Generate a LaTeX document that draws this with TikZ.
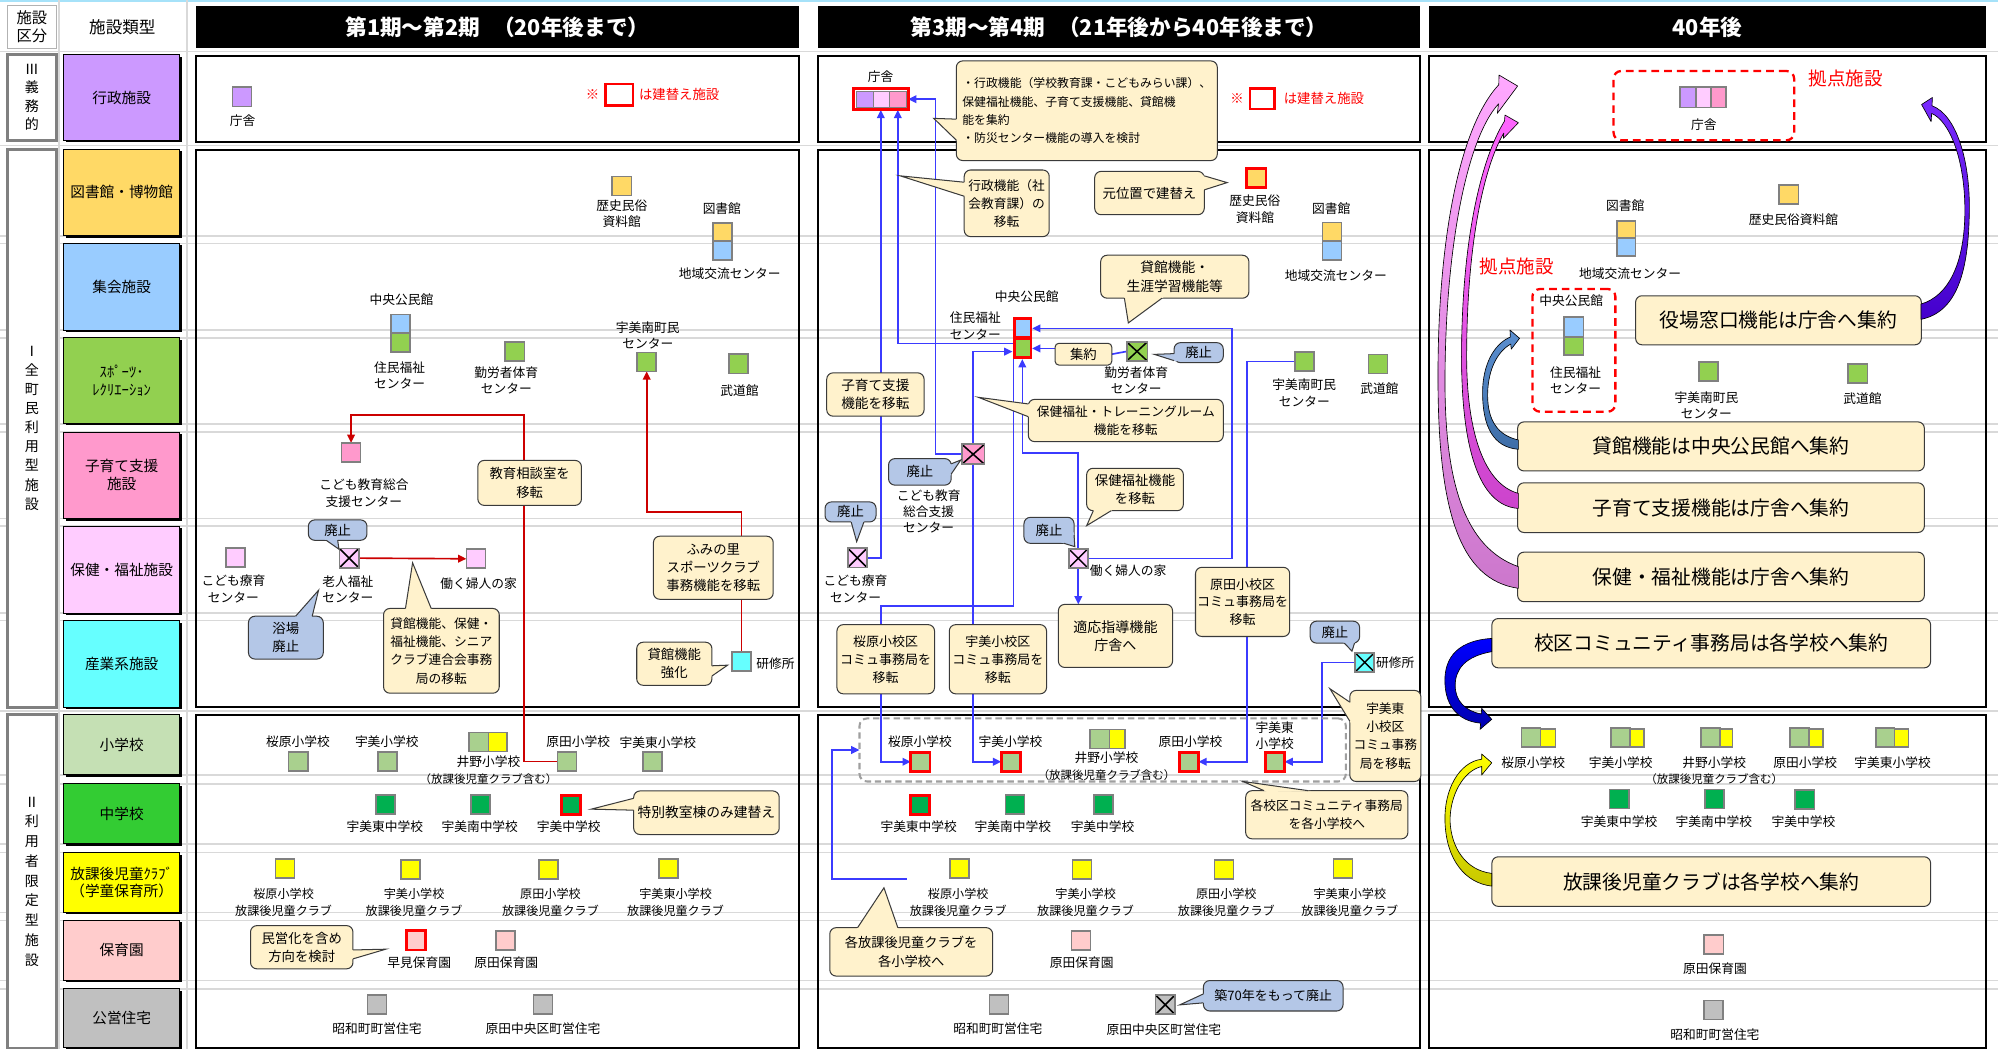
\documentclass[tikz,border=0pt]{standalone}
\usepackage{fontspec}
\setmainfont{Noto Sans CJK JP}
\usetikzlibrary{calc,arrows.meta}
\definecolor{admpurple}{HTML}{CC99FF}
\definecolor{libor}{HTML}{FFD966}
\definecolor{meetblue}{HTML}{99CCFF}
\definecolor{sportgreen}{HTML}{92D050}
\definecolor{kidpink}{HTML}{FF99CC}
\definecolor{welpink}{HTML}{FFCCFF}
\definecolor{indcyan}{HTML}{66FFFF}
\definecolor{elemcat}{HTML}{C5E0B4}
\definecolor{elemgreen}{HTML}{A9D08E}
\definecolor{jcat}{HTML}{33CC33}
\definecolor{jgreen}{HTML}{00B050}
\definecolor{clubyellow}{HTML}{FFFF00}
\definecolor{nurspink}{HTML}{FFCCCC}
\definecolor{housegray}{HTML}{C0C0C0}
\definecolor{cream}{HTML}{FFF2CC}
\definecolor{bluegray}{HTML}{B4C7E7}
\definecolor{flowblue}{HTML}{3B3BFF}
\definecolor{flowred}{HTML}{CC0000}
\definecolor{facgray}{HTML}{808080}
\definecolor{gridgray}{HTML}{D9D9D9}
\definecolor{cborder}{HTML}{3A3A3A}
\definecolor{pinkA}{HTML}{FFA8FF}
\definecolor{pinkB}{HTML}{CC77CC}
\definecolor{magA}{HTML}{FF66FF}
\definecolor{magB}{HTML}{CC44CC}
\definecolor{steelA}{HTML}{5B8FD0}
\definecolor{steelB}{HTML}{3E6EA8}
\definecolor{violA}{HTML}{7A2BFF}
\definecolor{violB}{HTML}{4400CC}
\definecolor{blueA}{HTML}{0000FF}
\definecolor{blueB}{HTML}{0000B0}
\definecolor{yelA}{HTML}{FFFF00}
\definecolor{yelB}{HTML}{C8C800}
\newcommand\myfs[2]{\fontsize{#1}{#2}\selectfont}
\pgfdeclarelayer{gridlayer}
\pgfdeclarelayer{linelayer}
\pgfsetlayers{gridlayer,linelayer,main}
\tikzset{
  every node/.style={outer sep=0pt},
  fac/.style={draw=facgray, line width=1.3pt, minimum width=15pt, minimum height=15pt, inner sep=0pt},
  rfac/.style={fac, draw=red, line width=2.2pt},
  crossed/.style={path picture={\draw[black, line width=1.2pt] (path picture bounding box.south west) -- (path picture bounding box.north east) (path picture bounding box.north west) -- (path picture bounding box.south east);}},
  lbl/.style={inner sep=0pt, align=center, font={\myfs{10}{12.7}}},
  clbl/.style={lbl, font={\myfs{9.5}{13.3}}},
  callout/.style={draw=cborder, fill=cream, rounded corners=5pt, line width=0.8pt, align=center, inner sep=0pt, font={\myfs{10.5}{14.3}}},
  bcallout/.style={callout, fill=bluegray},
  bigbox/.style={callout, font={\myfs{15.5}{18}}},
  tailline/.style={draw=cborder, line width=0.8pt, line join=miter},
  bline/.style={draw=flowblue, line width=1.3pt, -{Triangle[length=6.5pt,width=6pt]}},
  rline/.style={draw=flowred, line width=1.3pt, -{Triangle[length=6.5pt,width=6pt]}},
  hdr/.style={fill=black, text=white, inner sep=0pt, font={\bfseries\myfs{17}{20}}},
  catbox/.style={draw=black, line width=0.6pt, minimum width=91pt, inner sep=0pt, align=center, font={\myfs{11.5}{14}}},
  grpbox/.style={draw=facgray, line width=2.4pt, fill=white, minimum width=38pt, inner sep=0pt, align=center},
  bigarrow/.style={draw=black, line width=0.5pt, line join=round},
  reddash/.style={draw=red, dash pattern=on 6pt off 4pt, line width=1.8pt, rounded corners=6pt, inner sep=0pt},
  redtxt/.style={text=red, inner sep=0pt, font={\myfs{10.5}{12}}},
}
\newcommand\cbox[7]{\node[#2, minimum width={#5-(#3)}, minimum height={#6-(#4)}] (#1) at ({(#3+#5)/2},{(#4+#6)/2}) {#7};}
\newcommand\ctail[4]{\fill[#1] ($#2!-2.5pt!#4$) -- #4 -- ($#3!-2.5pt!#4$) -- cycle; \draw[tailline] #2 -- #4 -- #3;}
\newcommand\catbox[5]{\fill[black] (51.6,{#3+1.6}) rectangle (142.6,{#4+1.6}); \node[catbox, fill=#2, minimum height={#4-(#3)}] (#1) at (95.5,{(#3+#4)/2}) {#5};}
\begin{document}
\begin{tikzpicture}[x=1pt,y=-1pt]
\useasboundingbox (0,0) rectangle (1568,823);
\begin{pgfonlayer}{gridlayer}
\fill[white] (0,0) rectangle (1568,823);
\draw[cyan!35, line width=1.2pt] (0,0.6) -- (1568,0.6);
\foreach \yy in {40.5,114.3,185,191,259,265,332.5,339,407,413,481,487,557.8,608,615,662.5,669,716,722.5,769.5,776}
  \draw[gridgray, line width=1.3pt] (0,\yy) -- (1568,\yy);
\foreach \xx in {46.5,146.5}
  \draw[gridgray, line width=1.3pt] (\xx,0) -- (\xx,823);
\foreach \xa/\xb in {153.8/627, 642/1114.5, 1121.6/1558.5}{
  \draw[black, line width=1.6pt] (\xa,43.8) rectangle (\xb,111.4);
  \draw[black, line width=1.6pt] (\xa,117.5) rectangle (\xb,554.5);
  \draw[black, line width=1.6pt] (\xa,561) rectangle (\xb,822.3);
}
\end{pgfonlayer}

% ---------- left columns ----------
\node[draw=gray!60, line width=0.8pt, minimum width=38pt, minimum height=34pt, inner sep=0pt, align=center, font={\myfs{12}{14}}] (hkubun) at (25,21) {施設\\区分};
\node[inner sep=0pt, font={\myfs{13}{15}}] (hruikei) at (96,21) {施設類型};
\node[grpbox, minimum height=67pt, font={\myfs{11}{14.5}}] (g3) at (25,76.5) {Ⅲ\\義\\務\\的};
\node[grpbox, minimum height=438pt, font={\myfs{11}{15}}] (g1) at (25,336) {Ⅰ\\全\\町\\民\\利\\用\\型\\施\\設};
\node[grpbox, minimum height=261.5pt, font={\myfs{11}{15.5}}] (g2) at (25,691.8) {Ⅱ\\利\\用\\者\\限\\定\\型\\施\\設};
\catbox{cgyo}{admpurple}{43}{110}{行政施設}
\catbox{ctosho}{libor}{117}{185}{図書館・博物館}
\catbox{cshu}{meetblue}{191}{259}{集会施設}
\catbox{cspo}{sportgreen}{265}{332}{ｽﾎﾟｰﾂ･\\ﾚｸﾘｴｰｼｮﾝ}
\catbox{ckoso}{kidpink}{339}{407}{子育て支援\\施設}
\catbox{chok}{welpink}{413}{481}{保健・福祉施設}
\catbox{csan}{indcyan}{487}{555}{産業系施設}
\catbox{csho}{elemcat}{561}{608}{小学校}
\catbox{cchu}{jcat}{615}{662}{中学校}
\catbox{chou}{clubyellow}{669}{716}{放課後児童ｸﾗﾌﾞ\\（学童保育所）}
\catbox{choi}{nurspink}{722}{769}{保育園}
\catbox{cjyu}{housegray}{776}{822}{公営住宅}

% ---------- headers ----------
\node[hdr, minimum width=473.2pt, minimum height=33.2pt] (h1) at (390.4,21.4) {第1期～第2期\hspace{0.6em}（20年後まで）};
\node[hdr, minimum width=472.5pt, minimum height=33.2pt] (h2) at (878.25,21.4) {第3期～第4期\hspace{0.6em}（21年後から40年後まで）};
\node[hdr, minimum width=436.9pt, minimum height=33.2pt] (h3) at (1340.05,21.4) {40年後};

% ================= PANEL 1 =================
\node[fac, fill=admpurple] (p1cho) at (190,76) {};
\node[lbl] (p1chol) at (190.4,94.7) {庁舎};
\node[redtxt] (p1kome) at (465,74) {※};
\node[draw=red, line width=2pt, minimum width=21.6pt, minimum height=17pt, inner sep=0pt] (p1leg) at (485.8,74.5) {};
\node[redtxt] (p1legt) at (533,74) {は建替え施設};

\node[fac, fill=libor] (p1rek) at (488,146) {};
\node[lbl] (p1rekl) at (488,167.5) {歴史民俗\\資料館};
\node[lbl] (p1libl) at (566.5,163.7) {図書館};
\node[fac, fill=libor] (p1lib) at (567,182.3) {};
\node[fac, fill=meetblue] (p1chi) at (567,196.5) {};
\node[lbl] (p1chil) at (572.7,215) {地域交流センター};
\node[lbl] (p1kol) at (315,234.8) {中央公民館};
\node[fac, fill=meetblue] (p1kou) at (314.5,254.3) {};
\node[fac, fill=sportgreen] (p1jyu) at (314.5,268.6) {};
\node[lbl] (p1jyul) at (313.6,294.3) {住民福祉\\センター};
\node[fac, fill=sportgreen] (p1kin) at (404,276) {};
\node[lbl] (p1kinl) at (397.3,298.8) {勤労者体育\\センター};
\node[lbl] (p1uminl) at (508.4,262.9) {宇美南町民\\センター};
\node[fac, fill=sportgreen] (p1umin) at (507.5,284) {};
\node[fac, fill=sportgreen] (p1bud) at (579.5,285.5) {};
\node[lbl] (p1budl) at (580.4,306.4) {武道館};
\node[fac, fill=kidpink] (p1kodo) at (275.5,355) {};
\node[lbl] (p1kodol) at (285.6,387) {こども教育総合\\支援センター};
\node[fac, fill=welpink] (p1ryo) at (185,437.5) {};
\node[lbl] (p1ryol) at (183.2,462.1) {こども療育\\センター};
\node[fac, fill=welpink, crossed] (p1rojin) at (274,438) {};
\node[lbl] (p1rojinl) at (273,462.6) {老人福祉\\センター};
\node[fac, fill=welpink] (p1fujin) at (373.5,438.5) {};
\node[lbl] (p1fujinl) at (375.6,457.9) {働く婦人の家};
\node[fac, fill=indcyan] (p1ken) at (582,519.3) {};
\node[lbl, anchor=west] (p1kenl) at (593.5,521) {研修所};

\node[lbl] (p1sakl) at (233.8,581.8) {桜原小学校};
\node[fac, fill=elemgreen] (p1sak) at (234,597.6) {};
\node[lbl] (p1umil) at (303.6,581.8) {宇美小学校};
\node[fac, fill=elemgreen] (p1umi) at (304,597.6) {};
\node[fac, fill=elemgreen, minimum width=15.5pt] (p1inoA) at (375.7,582.3) {};
\node[fac, fill=clubyellow, minimum width=14.6pt] (p1inoB) at (390.7,582.3) {};
\node[lbl] (p1inol) at (383.4,598) {井野小学校};
\node[lbl, font={\myfs{9}{11}}] (p1inol2) at (383.4,611.5) {（放課後児童クラブ含む）};
\node[lbl] (p1harl) at (453.8,581.8) {原田小学校};
\node[fac, fill=elemgreen] (p1har) at (445,597.6) {};
\node[lbl] (p1higl) at (516.2,582.9) {宇美東小学校};
\node[fac, fill=elemgreen] (p1hig) at (512,597.6) {};
\node[fac, fill=jgreen] (p1mhig) at (302.5,631.5) {};
\node[lbl] (p1mhigl) at (302,649) {宇美東中学校};
\node[fac, fill=jgreen] (p1mmin) at (377,631.5) {};
\node[lbl] (p1mminl) at (376.5,649) {宇美南中学校};
\node[rfac, fill=jgreen] (p1mumi) at (448,632) {};
\node[lbl] (p1mumil) at (446.4,649) {宇美中学校};
\node[fac, fill=clubyellow] (p1cl1) at (223.6,681.4) {};
\node[fac, fill=clubyellow] (p1cl2) at (322.3,682.2) {};
\node[fac, fill=clubyellow] (p1cl3) at (430.5,682.2) {};
\node[fac, fill=clubyellow] (p1cl4) at (524.6,681.4) {};
\node[clbl] (p1cl1l) at (222.6,707.9) {桜原小学校\\放課後児童クラブ};
\node[clbl] (p1cl2l) at (325,707.9) {宇美小学校\\放課後児童クラブ};
\node[clbl] (p1cl3l) at (432,707.9) {原田小学校\\放課後児童クラブ};
\node[clbl] (p1cl4l) at (530.2,707.9) {宇美東小学校\\放課後児童クラブ};
\node[rfac, fill=nurspink] (p1haya) at (326.7,738) {};
\node[lbl] (p1hayal) at (329,755.8) {早見保育園};
\node[fac, fill=nurspink] (p1hnur) at (396.8,738) {};
\node[lbl] (p1hnurl) at (397.3,755.8) {原田保育園};
\node[fac, fill=housegray] (p1sho) at (295.8,788.5) {};
\node[lbl] (p1shol) at (295.9,807.4) {昭和町町営住宅};
\node[fac, fill=housegray] (p1hhou) at (426.2,788.5) {};
\node[lbl] (p1hhoul) at (426.2,807.4) {原田中央区町営住宅};

% panel 1 callouts
\cbox{p1c1}{callout}{375}{361.3}{456.3}{396.6}{教育相談室を\\移転}
\cbox{p1c2}{bcallout}{242}{408}{288}{424}{廃止}
\ctail{bluegray}{(256,424)}{(265,424)}{(266,431)}
\cbox{p1c3}{bcallout}{195}{483.6}{253.7}{517.2}{浴場\\廃止}
\ctail{bluegray}{(232,483.6)}{(245,483.6)}{(250,463.2)}
\cbox{p1c4}{callout, font={\myfs{10}{14.3}}}{301}{477.5}{391.8}{544}{貸館機能、保健・\\福祉機能、シニア\\クラブ連合会事務\\局の移転}
\ctail{cream}{(318.2,477.5)}{(338.4,477.5)}{(323.8,441.7)}
\cbox{p1c5}{callout}{512.8}{420.8}{606.8}{470.3}{ふみの里\\スポーツクラブ\\事務機能を移転}
\cbox{p1c6}{callout}{499.7}{504}{558.7}{537.8}{貸館機能\\強化}
\ctail{cream}{(558.7,522.5)}{(558.7,530.5)}{(571,522)}
\cbox{p1c7}{callout, font={\myfs{10.8}{14}}}{497.3}{620.7}{611.5}{654.9}{特別教室棟のみ建替え}
\ctail{cream}{(497.3,626.5)}{(497.3,635.8)}{(464,635)}
\cbox{p1c8}{callout}{196.6}{726.4}{277}{760.3}{民営化を含め\\方向を検討}
\ctail{cream}{(277,745.5)}{(277,752.5)}{(302.7,744.9)}

% ================= PANEL 2 =================
\node[lbl] (p2chol) at (691,60.5) {庁舎};
\node[draw=red, line width=2.2pt, fill=white, minimum width=42.9pt, minimum height=16.7pt, inner sep=0pt] (p2cho) at (691.25,77.85) {};
\node[draw=facgray, line width=0.7pt, fill=admpurple, minimum width=13.3pt, minimum height=13pt, inner sep=0pt] (p2choA) at (678.6,78) {};
\node[draw=facgray, line width=0.7pt, fill=welpink, minimum width=12.5pt, minimum height=13pt, inner sep=0pt] (p2choB) at (691.5,78) {};
\node[draw=facgray, line width=0.7pt, fill=kidpink, minimum width=13.9pt, minimum height=13pt, inner sep=0pt] (p2choC) at (704.7,78) {};
\node[redtxt] (p2kome) at (970.8,77.5) {※};
\node[draw=red, line width=2pt, minimum width=19.5pt, minimum height=15.9pt, inner sep=0pt] (p2leg) at (990.55,77.45) {};
\node[redtxt] (p2legt) at (1039,77.5) {は建替え施設};

\node[rfac, fill=libor] (p2rek) at (986,139.7) {};
\node[lbl] (p2rekl) at (984.8,164.2) {歴史民俗\\資料館};
\node[lbl] (p2libl) at (1044.7,163.7) {図書館};
\node[fac, fill=libor] (p2lib) at (1045.3,182) {};
\node[fac, fill=meetblue] (p2chi) at (1045.3,196.5) {};
\node[lbl] (p2chil) at (1048.4,216.2) {地域交流センター};
\node[lbl] (p2kol) at (805.7,233) {中央公民館};
\node[lbl] (p2jyul) at (765.4,255.8) {住民福祉\\センター};
\node[fill=red, minimum width=15.4pt, minimum height=32.7pt, inner sep=0pt] (p2chuo) at (802.3,265.45) {};
\node[fill=meetblue, minimum width=10.9pt, minimum height=12.6pt, inner sep=0pt] (p2kou) at (802.85,257.4) {};
\node[fill=sportgreen, minimum width=10.9pt, minimum height=12.5pt, inner sep=0pt] (p2jyu) at (802.85,273.05) {};
\cbox{p2shu}{callout, rounded corners=3pt}{828}{269.4}{872.5}{286.5}{集約}
\node[fac, fill=sportgreen, crossed, minimum width=16.2pt] (p2kin) at (892.3,275.8) {};
\node[lbl] (p2kinl) at (891.7,298.8) {勤労者体育\\センター};
\node[fac, fill=sportgreen] (p2umin) at (1023.7,283.6) {};
\node[lbl] (p2uminl) at (1023.6,308.4) {宇美南町民\\センター};
\node[fac, fill=sportgreen] (p2bud) at (1081.5,285.6) {};
\node[lbl] (p2budl) at (1082.5,305.1) {武道館};
\node[fac, fill=kidpink, crossed, minimum width=17.8pt, minimum height=15.7pt] (p2kodo) at (763.7,356.5) {};
\node[lbl, font={\myfs{10}{12.6}}] (p2kodol) at (728.8,401.3) {こども教育\\総合支援\\センター};
\node[fac, fill=welpink, crossed] (p2ryo) at (672.9,437.8) {};
\node[lbl] (p2ryol) at (671.4,462.1) {こども療育\\センター};
\node[fac, fill=welpink, crossed] (p2fujin) at (846.2,438.2) {};
\node[lbl, anchor=west] (p2fujinl) at (855.4,447.9) {働く婦人の家};
\node[fac, fill=indcyan, crossed] (p2ken) at (1071,519.8) {};
\node[lbl, anchor=west] (p2kenl) at (1080,519.8) {研修所};

\node[draw=gray!75, dash pattern=on 5pt off 3pt, line width=1.6pt, rounded corners=6pt, minimum width=381.7pt, minimum height=49.5pt, inner sep=0pt] (p2dash) at (865.35,588.55) {};
\node[lbl] (p2sakl) at (722,581.8) {桜原小学校};
\node[rfac, fill=elemgreen] (p2sak) at (722.3,597.8) {};
\node[lbl] (p2umil) at (793,581.8) {宇美小学校};
\node[rfac, fill=elemgreen] (p2umi) at (793.2,597.8) {};
\node[fac, fill=elemgreen, minimum width=15.2pt] (p2inoA) at (863,580) {};
\node[fac, fill=clubyellow, minimum width=12.4pt] (p2inoB) at (876.8,580) {};
\node[lbl] (p2inol) at (868.4,595) {井野小学校};
\node[lbl, font={\myfs{9}{11}}] (p2inol2) at (868.4,608) {（放課後児童クラブ含む）};
\node[lbl] (p2harl) at (934.2,581.8) {原田小学校};
\node[rfac, fill=elemgreen] (p2har) at (933,597.8) {};
\node[lbl, font={\myfs{10}{12.4}}] (p2higl) at (1000.3,577.2) {宇美東\\小学校};
\node[rfac, fill=elemgreen] (p2hig) at (1000.6,597.8) {};
\node[rfac, fill=jgreen] (p2mhig) at (722,632) {};
\node[lbl] (p2mhigl) at (721,649) {宇美東中学校};
\node[fac, fill=jgreen] (p2mmin) at (796.5,631.5) {};
\node[lbl] (p2mminl) at (794.9,649) {宇美南中学校};
\node[fac, fill=jgreen] (p2mumi) at (866.2,631.5) {};
\node[lbl] (p2mumil) at (865.3,649) {宇美中学校};
\node[fac, fill=clubyellow] (p2cl1) at (753,681.4) {};
\node[fac, fill=clubyellow] (p2cl2) at (849.2,682.2) {};
\node[fac, fill=clubyellow] (p2cl3) at (960.6,682.2) {};
\node[fac, fill=clubyellow] (p2cl4) at (1054,681.4) {};
\node[clbl] (p2cl1l) at (752,707.9) {桜原小学校\\放課後児童クラブ};
\node[clbl] (p2cl2l) at (852,707.9) {宇美小学校\\放課後児童クラブ};
\node[clbl] (p2cl3l) at (962.4,707.9) {原田小学校\\放課後児童クラブ};
\node[clbl] (p2cl4l) at (1059.3,707.9) {宇美東小学校\\放課後児童クラブ};
\node[fac, fill=nurspink] (p2hnur) at (848.3,738) {};
\node[lbl] (p2hnurl) at (848.9,755.8) {原田保育園};
\node[fac, fill=housegray] (p2sho) at (784,788.5) {};
\node[lbl] (p2shol) at (783.1,807.4) {昭和町町営住宅};
\node[fac, fill=housegray, crossed] (p2hhou) at (914.4,788.5) {};
\node[lbl] (p2hhoul) at (913.4,808) {原田中央区町営住宅};
\coordinate (p2clubend) at (711.7,689.6);

% panel 2 callouts
\cbox{p2c1}{callout, align=left, font={\myfs{9.3}{14.4}}}{750.5}{47.8}{955.3}{126}{・行政機能（学校教育課・こどもみらい課）、\\保健福祉機能、子育て支援機能、貸館機\\能を集約\\・防災センター機能の導入を検討}
\ctail{cream}{(750.5,93.5)}{(750.5,110)}{(732.8,92.9)}
\cbox{p2c2}{callout, font={\myfs{10}{14.3}}}{756.7}{133.4}{823.4}{185.7}{行政機能（社\\会教育課）の\\移転}
\ctail{cream}{(756.7,143)}{(756.7,154)}{(706.5,138)}
\cbox{p2c3}{callout}{859.1}{134.5}{945.1}{168.5}{元位置で建替え}
\ctail{cream}{(945.1,138)}{(945.1,149)}{(963,143.3)}
\cbox{p2c4}{callout, font={\myfs{10.8}{14.6}}}{863.8}{200.3}{980.1}{234}{貸館機能・\\生涯学習機能等}
\ctail{cream}{(882.4,234)}{(911.9,234)}{(885.5,253.4)}
\cbox{p2c5}{bcallout}{921.4}{268.9}{960}{284.6}{廃止}
\ctail{bluegray}{(921.4,277.5)}{(921.4,283)}{(905.9,278.1)}
\cbox{p2c6}{callout, font={\myfs{10.7}{14.6}}}{648.8}{292.6}{725.2}{326.6}{子育て支援\\機能を移転}
\cbox{p2c7}{callout, font={\myfs{10}{14.6}}}{807}{313.4}{960}{346.6}{保健福祉・トレーニングルーム\\機能を移転}
\ctail{cream}{(807,317)}{(807,327)}{(767.8,311.8)}
\cbox{p2c8}{bcallout}{697.3}{359.9}{746.5}{380.7}{廃止}
\ctail{bluegray}{(746.5,364)}{(746.5,372)}{(754,361)}
\cbox{p2c9}{callout}{852.8}{367.5}{928.7}{400.8}{保健福祉機能\\を移転}
\ctail{cream}{(858,400.8)}{(872,400.8)}{(852.8,412.5)}
\cbox{p2c10}{bcallout}{647.5}{393.9}{687.5}{409.6}{廃止}
\ctail{bluegray}{(668,409.6)}{(678,409.6)}{(672.3,425.1)}
\cbox{p2c11}{bcallout}{803.6}{406}{842.9}{426.4}{廃止}
\ctail{bluegray}{(835,426.4)}{(842.9,420)}{(843.5,429)}
\cbox{p2c12}{callout, font={\myfs{10.2}{14}}}{656.8}{490.2}{733.4}{544.5}{桜原小校区\\コミュ事務局を\\移転}
\cbox{p2c13}{callout, font={\myfs{10.2}{14}}}{745}{490.2}{821.3}{544.5}{宇美小校区\\コミュ事務局を\\移転}
\cbox{p2c14}{callout, font={\myfs{11}{14.3}}}{830.6}{474.3}{920.2}{523.8}{適応指導機能\\庁舎へ}
\cbox{p2c15}{callout, font={\myfs{10.2}{14}}}{938.2}{445.2}{1012.1}{499.5}{原田小校区\\コミュ事務局を\\移転}
\cbox{p2c16}{bcallout}{1028.2}{487.5}{1067}{504.7}{廃止}
\ctail{bluegray}{(1055,504.7)}{(1063,504.7)}{(1061,511)}
\cbox{p2c17}{callout, font={\myfs{10}{14.4}}}{1059.3}{541.8}{1115.1}{613.3}{宇美東\\小校区\\コミュ事務\\局を移転}
\ctail{cream}{(1059.3,551)}{(1059.3,566)}{(1043.7,540.5)}
\cbox{p2c18}{callout, font={\myfs{10}{14.5}}}{977.6}{620.5}{1104.9}{658.3}{各校区コミュニティ事務局\\を各小学校へ}
\ctail{cream}{(992,620.5)}{(1026.7,620.5)}{(975.5,613.3)}
\cbox{p2c19}{callout, font={\myfs{10.4}{14.6}}}{651.2}{728}{779}{766}{各放課後児童クラブを\\各小学校へ}
\ctail{cream}{(673,728)}{(704.6,728)}{(693.7,696.7)}
\cbox{p2c20}{bcallout, font={\myfs{10.2}{12}}}{944.4}{769.5}{1054}{793.4}{築70年をもって廃止}
\ctail{bluegray}{(944.4,780)}{(944.4,787)}{(925.8,788.6)}

% ================= PANEL 3 =================
\node[reddash, minimum width=141.7pt, minimum height=54.4pt] (p3cbox) at (1337.15,82.9) {};
\node[text=red, inner sep=0pt, font={\myfs{14.5}{16}}] (p3kyo1) at (1448.5,61.5) {拠点施設};
\node[fac, fill=admpurple, minimum width=12.4pt, minimum height=16pt] (p3choA) at (1324.6,76.4) {};
\node[fac, fill=welpink, minimum width=12.2pt, minimum height=16pt] (p3choB) at (1336.9,76.4) {};
\node[fac, fill=kidpink, minimum width=11.5pt, minimum height=16pt] (p3choC) at (1348.8,76.4) {};
\node[lbl] (p3chol) at (1337.2,97.6) {庁舎};
\node[lbl] (p3libl) at (1275.5,161.3) {図書館};
\node[fac, fill=libor, minimum width=14.4pt, minimum height=13.8pt] (p3lib) at (1276.4,180.1) {};
\node[fac, fill=meetblue, minimum width=14.4pt, minimum height=13.8pt] (p3chi) at (1276.4,193.9) {};
\node[lbl] (p3chil) at (1279.3,214.4) {地域交流センター};
\node[fac, fill=libor] (p3rek) at (1403.8,152.5) {};
\node[lbl] (p3rekl) at (1407.5,172.4) {歴史民俗資料館};
\node[text=red, inner sep=0pt, font={\myfs{14.5}{16}}] (p3kyo2) at (1190.2,209) {拠点施設};
\node[reddash, minimum width=65.1pt, minimum height=96.3pt] (p3cbox2) at (1235.15,274.95) {};
\node[lbl] (p3kol) at (1233,235.6) {中央公民館};
\node[fac, fill=meetblue, minimum width=15.4pt, minimum height=15.9pt] (p3kou) at (1234.9,256.5) {};
\node[fac, fill=sportgreen, minimum width=15.4pt, minimum height=14.1pt] (p3jyu) at (1234.9,271.5) {};
\node[lbl] (p3jyul) at (1236.5,298.5) {住民福祉\\センター};
\node[fac, fill=sportgreen] (p3umin) at (1340.6,291.6) {};
\node[lbl] (p3uminl) at (1339.2,318) {宇美南町民\\センター};
\node[fac, fill=sportgreen] (p3bud) at (1458,293) {};
\node[lbl] (p3budl) at (1461.6,313) {武道館};
\cbox{p3b1}{bigbox}{1283.6}{232.1}{1507.8}{270.6}{役場窓口機能は庁舎へ集約}
\cbox{p3b2}{bigbox}{1191}{331.1}{1510.2}{369.6}{貸館機能は中央公民館へ集約}
\cbox{p3b3}{bigbox}{1191}{378.9}{1510.2}{417.9}{子育て支援機能は庁舎へ集約}
\cbox{p3b4}{bigbox}{1191}{433.3}{1510.2}{472.2}{保健・福祉機能は庁舎へ集約}
\cbox{p3b5}{bigbox}{1170.8}{485.4}{1515.1}{524.1}{校区コミュニティ事務局は各学校へ集約}
\node[fac, fill=elemgreen, minimum width=15pt, minimum height=14.8pt] (p3sakA) at (1201.5,578.9) {};
\node[fac, fill=clubyellow, minimum width=11.6pt, minimum height=13.7pt] (p3sakB) at (1214.8,579.2) {};
\node[lbl] (p3sakl) at (1203.2,598.2) {桜原小学校};
\node[fac, fill=elemgreen, minimum width=15.3pt, minimum height=14.8pt] (p3umiA) at (1271.7,578.9) {};
\node[fac, fill=clubyellow, minimum width=10.7pt, minimum height=13.7pt] (p3umiB) at (1284.7,579.2) {};
\node[lbl] (p3umil) at (1272,598.2) {宇美小学校};
\node[fac, fill=elemgreen, minimum width=14.5pt, minimum height=14.8pt] (p3inoA) at (1342.4,578.9) {};
\node[fac, fill=clubyellow, minimum width=10.1pt, minimum height=13.7pt] (p3inoB) at (1354.7,579.2) {};
\node[lbl] (p3inol) at (1345.3,598.2) {井野小学校};
\node[lbl, font={\myfs{9}{11}}] (p3inol2) at (1345.3,611.2) {（放課後児童クラブ含む）};
\node[fac, fill=elemgreen, minimum width=15pt, minimum height=14.8pt] (p3harA) at (1412.1,578.9) {};
\node[fac, fill=clubyellow, minimum width=11pt, minimum height=13.7pt] (p3harB) at (1425.1,579.2) {};
\node[lbl] (p3harl) at (1416.7,598.2) {原田小学校};
\node[fac, fill=elemgreen, minimum width=14.4pt, minimum height=14.8pt] (p3higA) at (1479.5,578.9) {};
\node[fac, fill=clubyellow, minimum width=11pt, minimum height=13.7pt] (p3higB) at (1492.2,579.2) {};
\node[lbl] (p3higl) at (1485.3,598.2) {宇美東小学校};
\node[fac, fill=jgreen] (p3mhig) at (1270.7,627) {};
\node[lbl] (p3mhigl) at (1270.6,644.6) {宇美東中学校};
\node[fac, fill=jgreen] (p3mmin) at (1345.4,627) {};
\node[lbl] (p3mminl) at (1345,644.6) {宇美南中学校};
\node[fac, fill=jgreen] (p3mumi) at (1416.4,627.5) {};
\node[lbl] (p3mumil) at (1415.3,644.6) {宇美中学校};
\cbox{p3b6}{bigbox}{1170.8}{672.4}{1515.1}{711.3}{放課後児童クラブは各学校へ集約}
\node[fac, fill=nurspink] (p3hnur) at (1345,741.4) {};
\node[lbl] (p3hnurl) at (1345.8,760.3) {原田保育園};
\node[fac, fill=housegray] (p3sho) at (1344.8,792.7) {};
\node[lbl] (p3shol) at (1345.8,811.9) {昭和町町営住宅};

% ---------- connectors ----------
\begin{pgfonlayer}{linelayer}
\draw[rline] (p1har.west) -| (411.3,325.8) -| (p1kodo.north);
\draw[rline] (p1ken.north) |- (507.5,402) -- (p1umin.south);
\draw[rline] (p1rojin.east) -- (p1fujin.west);

\draw[bline] (p2ryo.east) -| (p2cho.south);
\draw[bline] ($(p2chuo.west)+(0,4)$) -| ([xshift=13.35pt]p2cho.south);
\draw[bline] (p2kodo.west) -| ($(p2cho.east)+(21.5,0)$) -- (p2cho.east);
\draw[bline] (p2kodo.north) |- ($(p2chuo.west)+(0,10.5)$);
\draw[bline] (p2kodo.south) |- (p2umi.west);
\draw[bline] ($(p2chuo.south)+(-7,0)$) |- (691.6,475.6) |- (p2sak.west);
\draw[bline] (p2fujin.north) |- (802.3,355.3) -- (p2chuo.south);
\draw[bline] (p2fujin.east) -| (966.6,257.7) -- ($(p2chuo.east)+(0,-7.75)$);
\draw[bline] ($(p2shu.west)+(0,-4.5)$) -- ($(p2chuo.east)+(0,8)$);
\draw[draw=flowblue, line width=1.3pt] (p2kin.west) -- (p2shu.east);
\draw[bline] (p2umin.west) -| ($(p2har.east)+(38.1,0)$) -- (p2har.east);
\draw[bline] (p2fujin.south) -- (p2fujin.south |- p2c14.north);
\draw[bline] (p2ken.west) -| ($(p2hig.east)+(29.4,0)$) -- (p2hig.east);
\draw[bline] (p2clubend) -| ($(p2dash.west)+(-21.7,0)$) -- (p2dash.west);
\end{pgfonlayer}

% ---------- curved block arrows (panel 3) ----------
\shadedraw[bigarrow, top color=pinkA, bottom color=pinkB]
 (1191.6,444.7) .. controls (1150,430) and (1134,380) .. (1134,300)
 .. controls (1134,200) and (1150,110) .. (1176,81.5)
 -- (1175.1,88.9) -- (1191,67.5) -- (1176.4,58.9) -- (1176.2,66.5)
 .. controls (1145,100) and (1128,190) .. (1128.5,300)
 .. controls (1129,400) and (1145,455) .. (1191.6,461.7) -- cycle;
\shadedraw[bigarrow, top color=magA, bottom color=magB]
 (1191.6,387.2) .. controls (1165,380) and (1151,340) .. (1151,280)
 .. controls (1151,190) and (1165,130) .. (1180.1,104.5)
 -- (1179.8,108.6) -- (1191.6,96.3) -- (1181.1,90.3) -- (1180.7,95)
 .. controls (1162,125) and (1147,190) .. (1147,280)
 .. controls (1147,350) and (1160,397) .. (1191.6,399) -- cycle;
\shadedraw[bigarrow, top color=steelA, bottom color=steelB]
 (1191.6,345.3) .. controls (1172,341) and (1167,325) .. (1167.5,308)
 .. controls (1168,290) and (1175,276) .. (1185.6,270)
 -- (1186,274) -- (1192.5,265.5) -- (1185,259) -- (1185.3,264.5)
 .. controls (1172,270) and (1163.5,287) .. (1163.5,308)
 .. controls (1163.5,335) and (1172,351) .. (1191.6,352.6) -- cycle;
\shadedraw[bigarrow, top color=violA, bottom color=violB]
 (1507.6,238.6) .. controls (1530,232) and (1542,205) .. (1542,165)
 .. controls (1542,125) and (1530,95) .. (1515.9,89)
 -- (1515.5,95.5) -- (1508,82) -- (1516.5,76.5) -- (1516.2,83)
 .. controls (1535,90) and (1546,125) .. (1545.5,165)
 .. controls (1545,215) and (1535,245) .. (1507.6,250.6) -- cycle;
\shadedraw[bigarrow, top color=blueA, bottom color=blueB]
 (1170.7,501) .. controls (1140,503) and (1133,520) .. (1134,537)
 .. controls (1135,555) and (1145,566) .. (1162,567.5)
 -- (1161.5,572.4) -- (1170.7,564.5) -- (1162.8,555.9) -- (1162.4,560.3)
 .. controls (1150,558) and (1142,550) .. (1142,538)
 .. controls (1142,525) and (1150,515) .. (1170.7,511.4) -- cycle;
\shadedraw[bigarrow, top color=yelA, bottom color=yelB]
 (1170.7,685.4) .. controls (1150,683) and (1139,665) .. (1138,645)
 .. controls (1137.5,625) and (1148,605) .. (1162.8,601.5)
 -- (1162.8,608.2) -- (1170.7,598.6) -- (1162.8,591.7) -- (1162.8,595.8)
 .. controls (1145,598) and (1133,620) .. (1134,645)
 .. controls (1135,675) and (1150,693) .. (1170.7,695.4) -- cycle;
\end{tikzpicture}
\end{document}
